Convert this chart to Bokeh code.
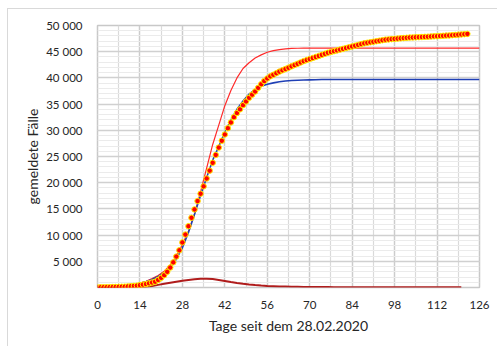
from bokeh.plotting import figure
from bokeh.models import FixedTicker, Range1d
from bokeh.embed import file_html
from bokeh.resources import INLINE

# ---- data ----
days = list(range(0, 123))
cases = [20, 30, 40, 50, 60, 80, 100, 120, 140, 160,
         200, 250, 300, 350, 450, 550, 650, 800, 950, 1100,
         1450, 1850, 2350, 3000, 3800, 4800, 5900, 7100, 8600, 10100,
         11700, 13300, 14900, 16500, 17900, 19300, 20800, 22300, 23800, 25300,
         26700, 28000, 29200, 30400, 31500, 32500, 33300, 34000, 34800, 35500,
         36200, 36800, 37400, 38100, 38800, 39400, 39900, 40300, 40600, 40900,
         41200, 41450, 41700, 41950, 42200, 42450, 42700, 42950, 43200, 43400,
         43600, 43800, 44000, 44200, 44400, 44600, 44800, 44950, 45100, 45250,
         45400, 45550, 45700, 45850, 46000, 46150, 46300, 46450, 46600, 46700,
         46800, 46900, 47000, 47100, 47200, 47300, 47350, 47400, 47450, 47500,
         47550, 47600, 47650, 47700, 47720, 47750, 47780, 47800, 47830, 47860,
         47900, 47930, 47960, 48000, 48030, 48070, 48100, 48150, 48200, 48250,
         48300, 48350, 48400]

fit_days = list(range(0, 127, 2))
fit_red = [20, 40, 70, 120, 200, 330, 550, 850, 1200, 1700,
           2300, 3100, 4300, 6000, 8200, 10800, 14000, 18300, 22800, 27300,
           31000, 34700, 37600, 40000, 41800, 42900, 43800, 44400, 44900, 45200,
           45400, 45550, 45620, 45660, 45680, 45700, 45700, 45700, 45700, 45700,
           45700, 45700, 45700, 45700, 45700, 45700, 45700, 45700, 45700, 45700,
           45700, 45700, 45700, 45700, 45700, 45700, 45700, 45700, 45700, 45700,
           45700, 45700, 45700, 45700]
fit_blue = [20, 40, 70, 110, 180, 300, 480, 750, 1100, 1550,
            2100, 2850, 3900, 5400, 7600, 10500, 14000, 17600, 21000, 24300,
            26900, 29600, 32000, 34000, 35600, 36900, 37800, 38400, 38800, 39050,
            39250, 39400, 39500, 39550, 39600, 39630, 39660, 39700, 39700, 39700,
            39700, 39700, 39700, 39700, 39700, 39700, 39700, 39700, 39700, 39700,
            39700, 39700, 39700, 39700, 39700, 39700, 39700, 39700, 39700, 39700,
            39700, 39700, 39700, 39700]

daily_days = list(range(14, 122, 2))
daily_new = [0, 150, 300, 500, 700, 900, 1100, 1300, 1450, 1570,
             1650, 1680, 1600, 1450, 1250, 1050, 880, 720, 580, 470,
             380, 300, 250, 200, 170, 140, 120, 100, 90, 80,
             80, 75, 70, 70, 65, 60, 55, 50, 50, 45,
             45, 40, 40, 35, 35, 30, 30, 30, 30, 30,
             30, 30, 30, 30]

x_ticks = [0, 14, 28, 42, 56, 70, 84, 98, 112, 126]
x_tick_labels = ["0", "14", "28", "42", "56", "70", "84", "98", "112", "126"]
y_ticks = [0, 5000, 10000, 15000, 20000, 25000, 30000, 35000, 40000, 45000, 50000]
y_tick_labels = ["", "5 000", "10 000", "15 000", "20 000", "25 000",
                 "30 000", "35 000", "40 000", "45 000", "50 000"]
x_title = "Tage seit dem 28.02.2020"
y_title = "gemeldete Fälle"

# ---- figure ----
p = figure(width=490, height=338, output_backend="svg", toolbar_location=None,
           x_range=Range1d(0, 126), y_range=Range1d(0, 50000),
           min_border_left=89, min_border_right=19, min_border_top=16,
           min_border_bottom=60)
# light grey chart-area frame: only its top and left edges fall inside the window
p.styles = {"margin-left": "7px", "margin-top": "8px",
            "border-top": "1px solid #d9d9d9", "border-left": "1px solid #d9d9d9"}
p.background_fill_color = "white"
p.border_fill_color = "white"
p.outline_line_color = "#c8c8c8"
p.outline_line_width = 1.5

p.xaxis.ticker = FixedTicker(ticks=x_ticks, minor_ticks=list(range(7, 126, 14)))
p.yaxis.ticker = FixedTicker(ticks=y_ticks, minor_ticks=list(range(1000, 50000, 1000)))
p.xaxis.major_label_overrides = {t: l for t, l in zip(x_ticks, x_tick_labels)}
p.yaxis.major_label_overrides = {t: l for t, l in zip(y_ticks, y_tick_labels)}

for ax in (p.xaxis, p.yaxis):
    ax.axis_line_color = None
    ax.major_tick_line_color = None
    ax.minor_tick_line_color = None
    ax.major_label_text_font = "Lato"
    ax.major_label_text_font_size = "11.5px"
    ax.major_label_text_color = "#262626"
    ax.axis_label_text_font = "Lato"
    ax.axis_label_text_font_size = "14px"
    ax.axis_label_text_font_style = "normal"
    ax.axis_label_text_color = "#262626"
    ax.major_tick_out = 0
    ax.major_tick_in = 0

p.xaxis.axis_label = x_title
p.yaxis.axis_label = y_title
p.xaxis.major_label_standoff = 9
p.yaxis.major_label_standoff = 11
p.xaxis.axis_label_standoff = 5
p.yaxis.axis_label_standoff = 2

p.xgrid.grid_line_color = "#cccccc"
p.xgrid.grid_line_width = 1.5
p.xgrid.minor_grid_line_color = "#dadada"
p.xgrid.minor_grid_line_width = 1.2
p.ygrid.grid_line_color = "#d0d0d0"
p.ygrid.grid_line_width = 1.5
p.ygrid.minor_grid_line_color = "#ebebeb"
p.ygrid.minor_grid_line_width = 1

p.line(fit_days, fit_red, line_color="#ff2a2a", line_width=1.2)
p.line(fit_days, fit_blue, line_color="#1f3fb5", line_width=1.6)
p.line(daily_days, daily_new, line_color="#b01c1c", line_width=2)
p.scatter(days, cases, size=5.5, fill_color="#ff0000", line_color="#ffee00",
          line_width=1.0)

open("out.html", "w").write(file_html(p, INLINE))
